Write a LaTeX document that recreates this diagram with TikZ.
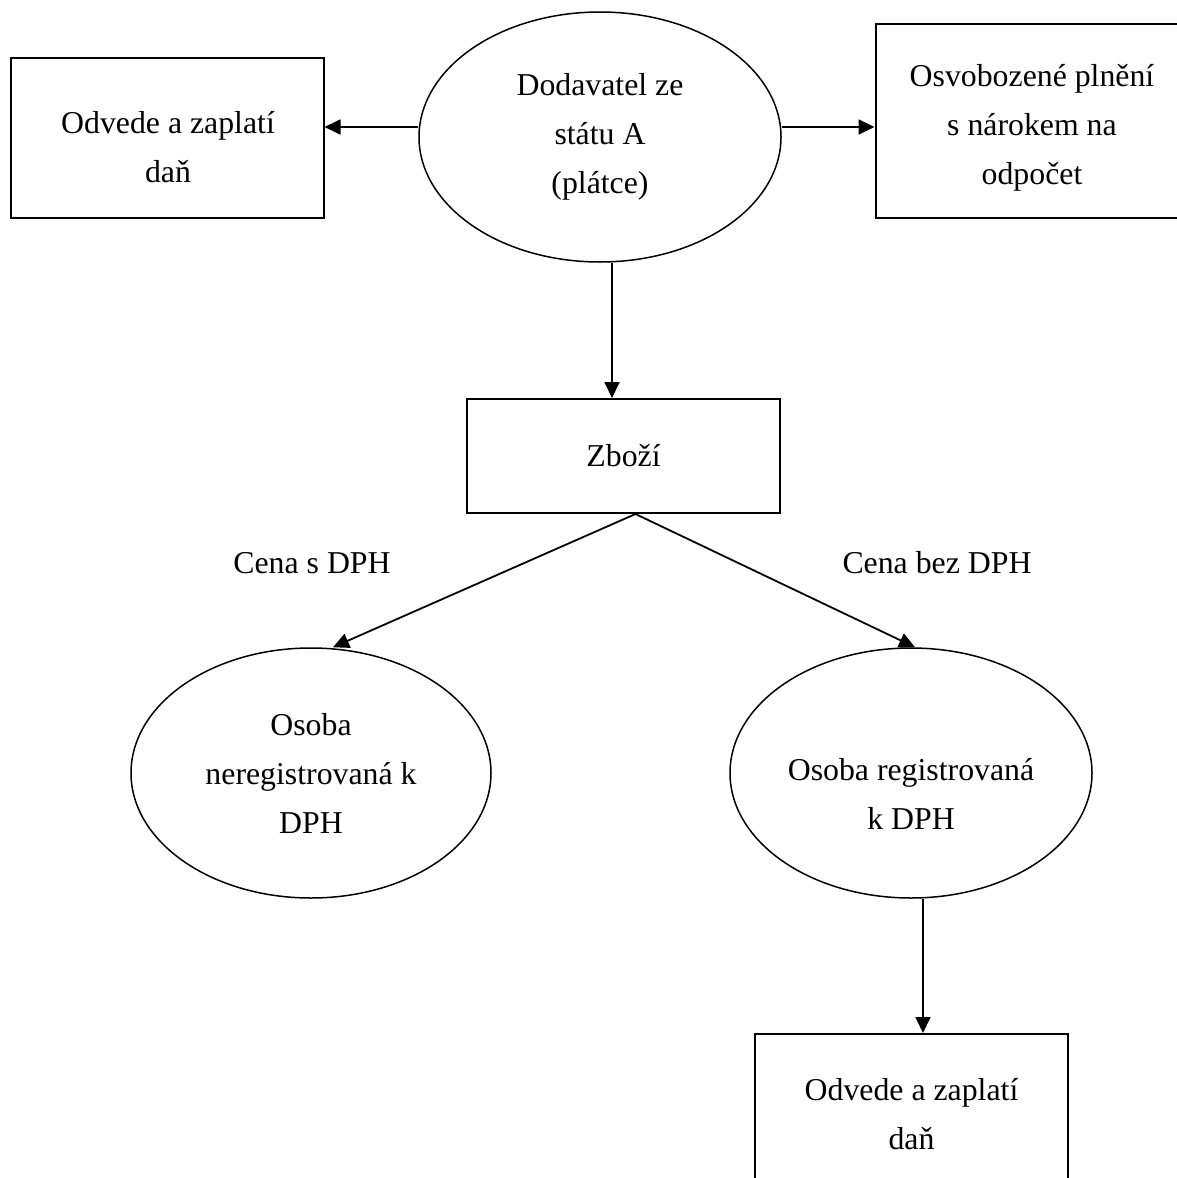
\documentclass[tikz,border=0pt]{standalone}
\usepackage{fontspec}
\setmainfont{Liberation Serif}
\usetikzlibrary{arrows.meta}
\usetikzlibrary{shapes.geometric}

\begin{document}
\begin{tikzpicture}[x=0.5pt,y=-0.5pt,
        every node/.style={font=\fontsize{15.9pt}{24.5pt}\selectfont,align=center},
        box/.style={rectangle,draw,line width=1pt,minimum width=156.5pt,inner sep=0pt},
        oval/.style={ellipse,draw,line width=0.75pt,minimum width=181pt,minimum height=125pt,inner sep=0pt},
        arr/.style={line width=0.9pt,-{Triangle[length=8pt,width=7.5pt]}}]
        \useasboundingbox (0,0) rectangle (1177,1178);
        \clip (0,0) rectangle (1177,1178);

        \node[oval] (A) at (600,137) {Dodavatel ze\\státu A\\(plátce)};
        \node[box,minimum height=80pt] (L1) at (167,138) {};
        \node (L1t) at (168,147) {Odvede a zaplatí\\daň};
        \node[box,minimum height=97pt] (R1) at (1032,121) {};
        \node (R1t) at (1032,128) {Osvobozené plnění\\s nárokem na\\odpočet};
        \node[box,minimum height=57pt] (Z) at (623.5,456) {Zboží};
        \node (Cs) at (312,563) {Cena s DPH};
        \node (Cb) at (937,563) {Cena bez DPH};
        \node[oval,minimum width=180pt] (N) at (311,773) {Osoba\\neregistrovaná k\\DPH};
        \node[oval] (R) at (911,773) {};
        \node (Rt) at (911,794) {Osoba registrovaná\\k DPH};
        \node[box,minimum height=80pt] (B) at (911.5,1114) {Odvede a zaplatí\\daň};

        \coordinate (Aw) at ([yshift=5pt]A.west);
        \coordinate (Ae) at ([yshift=5pt]A.east);
        \coordinate (As) at ([xshift=6pt]A.south);
        \coordinate (Zb) at ([xshift=6pt]Z.south);
        \coordinate (Rs) at ([xshift=6pt]R.south);

        \draw[arr] (Aw) -- (Aw -| L1.east);
        \draw[arr] (Ae) -- (Ae -| R1.west);
        \draw[arr] (As) -- (As |- Z.north);
        \draw[arr] (Zb) -- ([xshift=11pt]N.north);
        \draw[arr] (Zb) -- ([xshift=2pt]R.north);
        \draw[arr] (Rs) -- (Rs |- B.north);

    \end{tikzpicture}
\end{document}
